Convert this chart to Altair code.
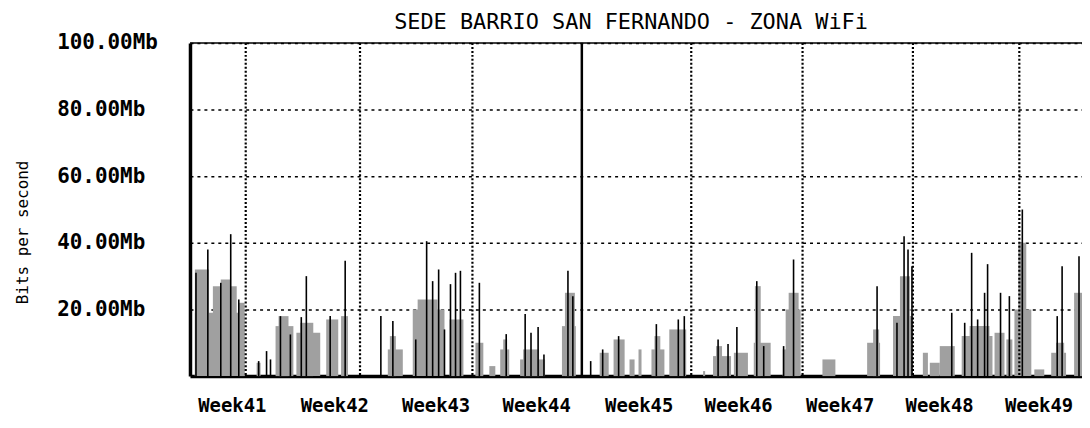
import altair as alt
import pandas as pd

# Inbound traffic (grey area), as segments: start day, end day, Mb/s
gray_start = [0.31, 0.31, 1.45, 1.95, 3.09, 4.22, 5.42, 5.61, 6.74, 6.99, 8.63, 9.57,
              12.53, 12.66, 14.11, 14.42, 16.44, 18.08, 18.96, 19.65, 19.84, 20.91, 21.10,
              23.56, 23.75, 25.95, 26.83, 27.84, 28.41, 29.23, 29.42, 30.36, 32.50, 33.13,
              33.32, 34.45, 35.71, 35.78, 37.54, 37.73, 37.92, 40.06, 42.89, 43.27, 44.53,
              44.97, 46.42, 46.86, 47.49, 48.88, 49.38, 50.96, 51.71, 52.22, 52.47, 53.48,
              54.55, 54.86, 56.00]
gray_end = [1.20, 3.46, 2.96, 2.58, 3.46, 4.47, 6.55, 6.24, 8.25, 7.81, 9.39, 10.01,
            13.48, 13.04, 16.12, 15.68, 17.32, 18.58, 19.34, 20.22, 20.09, 22.49, 22.11,
            24.44, 24.38, 26.52, 27.53, 28.16, 28.60, 30.05, 29.79, 31.43, 32.63, 34.27,
            33.70, 35.34, 36.78, 36.15, 37.98, 38.68, 38.55, 40.88, 43.71, 43.65, 45.79,
            45.60, 46.74, 47.49, 48.44, 50.83, 50.64, 51.59, 52.09, 53.29, 52.97, 54.11,
            55.49, 55.37, 56.50]
gray_mb = [32, 19, 27, 29, 22, 4, 15, 18, 13, 16, 17, 18,
           8, 12, 20, 23, 17, 10, 3, 8, 11, 5, 8,
           15, 25, 7, 11, 5, 8, 8, 12, 14, 1.5, 6,
           9, 7, 10, 27, 8, 20, 25, 5, 10, 14, 18,
           30, 7, 4, 9, 12, 15, 13, 11, 20, 40, 2,
           7, 10, 25]

# Outbound traffic peaks (black line spikes): day, Mb/s
spike_day = [0.38, 1.13, 1.95, 2.58, 3.09, 4.35, 4.85, 5.10, 5.73, 6.36, 7.05, 7.37,
             8.88, 9.83, 12.09, 12.85, 14.30, 14.99, 15.37, 15.75, 16.12, 16.50, 16.82,
             17.13, 18.33, 20.03, 21.23, 21.60, 22.05, 22.42, 23.94, 24.25, 25.38, 26.14,
             27.15, 29.54, 30.93, 31.31, 33.45, 34.08, 34.64, 35.90, 36.34, 37.60, 38.23,
             43.52, 44.78, 45.23, 45.48, 45.73, 48.25, 49.07, 49.51, 49.89, 50.33, 50.52,
             51.34, 51.90, 52.72, 54.93, 55.24, 56.31]
spike_mb = [31, 38, 28, 42.6, 23, 4.5, 7.5, 5, 18, 12.5, 17.7, 30,
            18, 34.6, 18, 16.5, 11, 40.5, 28.5, 32, 14, 27.6, 31,
            31.6, 28, 12.6, 18.6, 13, 14.7, 6.5, 31.6, 24, 4.5, 8,
            12, 15.6, 17, 18, 11, 9.6, 14.7, 28.5, 9, 9, 35,
            27, 16, 42, 38, 33, 19, 16, 37, 17, 25, 33.6,
            25, 24, 50, 18, 33, 36]

grid_days = [3.53, 10.77, 17.89, 31.75, 38.80, 45.79, 52.53]
marker_day = [24.82]
week_days = [2.65, 9.14, 15.56, 21.93, 28.42, 34.72, 41.15, 47.45, 53.75]
week_names = ["Week41", "Week42", "Week43", "Week44", "Week45",
              "Week46", "Week47", "Week48", "Week49"]
y_ticks = [20, 40, 60, 80, 100]
top_value = [100]

FONT = "DejaVu Sans Mono"

gray_df = pd.DataFrame({"start": gray_start, "end": gray_end, "mb": gray_mb})
spike_df = pd.DataFrame({"day": spike_day, "mb": spike_mb})
grid_df = pd.DataFrame({"day": grid_days})
marker_df = pd.DataFrame({"day": marker_day})
top_df = pd.DataFrame({"mb": top_value})

xscale = alt.Scale(domain=[0, 56.5], nice=False, zero=False)
yscale = alt.Scale(domain=[0, 100], nice=False)

label_expr = "%s[indexof(%s, datum.value)]" % (
    "[" + ",".join("'%s'" % n for n in week_names) + "]",
    "[" + ",".join(repr(d) for d in week_days) + "]",
)

x_axis = alt.Axis(values=week_days, labelExpr=label_expr, title=None, grid=False,
                  ticks=False, domainColor="black", domainWidth=3.5,
                  labelPadding=21, labelFont=FONT, labelFontSize=19, labelFontWeight="bold",
                  labelColor="black", labelAngle=0, labelFlush=False, labelOverlap=False)
y_axis = alt.Axis(values=y_ticks, labelExpr="format(datum.value, '.2f') + 'Mb'",
                  title="Bits per second", grid=True, gridDash=[3, 4], gridColor="black",
                  gridWidth=1.5, ticks=False, domainColor="black",
                  domainWidth=3.5, labelAlign="left", labelPadding=134, labelFont=FONT,
                  labelFontSize=21, labelFontWeight="bold", labelColor="black",
                  titleFont=FONT, titleFontSize=16, titleFontWeight="normal",
                  titleColor="black", titleX=-168, titleY=190, titleAngle=270,
                  titleAlign="center", titleBaseline="middle")

X_START = alt.X("start:Q", scale=xscale, axis=x_axis)
Y_MB = alt.Y("mb:Q", scale=yscale, axis=y_axis)
X_DAY = alt.X("day:Q", scale=xscale, axis=x_axis)

gray = alt.Chart(gray_df).mark_rect(color="#a0a0a0").encode(
    x=X_START,
    x2="end:Q",
    y=Y_MB,
    y2=alt.datum(0),
)

vgrid = alt.Chart(grid_df).mark_rule(color="black", strokeWidth=2.2, strokeDash=[2, 2]).encode(
    x=X_DAY
)

spikes = alt.Chart(spike_df).mark_rule(color="black", strokeWidth=1.6).encode(
    x=X_DAY,
    y=Y_MB,
    y2=alt.datum(0),
)

marker = alt.Chart(marker_df).mark_rule(color="black", strokeWidth=2.5).encode(
    x=X_DAY
)

top = alt.Chart(top_df).mark_rule(color="black", strokeWidth=1.5).encode(
    y=Y_MB
)

chart = alt.layer(gray, vgrid, spikes, marker, top).properties(
    width=897,
    height=335,
    title=alt.TitleParams("SEDE BARRIO SAN FERNANDO - ZONA WiFi", font=FONT, fontSize=22,
                          fontWeight="normal", color="black", anchor="middle", offset=-2,
                          dx=-5),
    autosize=alt.AutoSizeParams(type="none"),
    padding={"left": 183, "top": 34, "right": 0, "bottom": 40},
    background="white",
).configure_view(stroke=None)

chart.save("out.html", embed_options={"renderer": "svg", "actions": False})
